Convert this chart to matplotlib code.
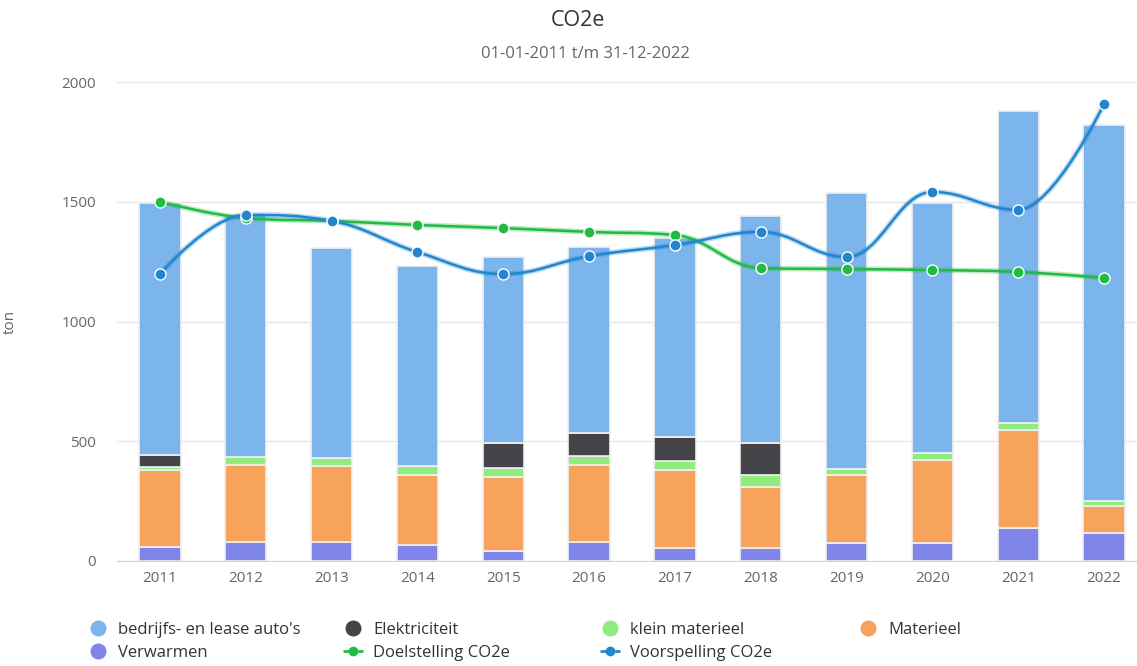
import numpy as np
import matplotlib
matplotlib.use("Agg")
import matplotlib.pyplot as plt
from matplotlib.path import Path
from matplotlib.patches import PathPatch
from matplotlib.lines import Line2D

plt.rcParams['font.family'] = ['Open Sans', 'DejaVu Sans']

# data
years = ["2011", "2012", "2013", "2014", "2015", "2016",
         "2017", "2018", "2019", "2020", "2021", "2022"]
verwarmen = [58, 78, 78, 67, 43, 78, 56, 56, 77, 77, 137, 118]
materieel = [322, 323, 320, 292, 309, 323, 324, 254, 282, 345, 410, 112]
klein_materieel = [14, 34, 32, 38, 35, 39, 37, 49, 24, 30, 28, 21]
elektriciteit = [49, 0, 0, 0, 104, 93, 102, 132, 0, 0, 0, 0]
autos = [1053, 1010, 878, 835, 777, 779, 828, 949, 1155, 1041, 1304, 1569]
doelstelling = [1500, 1432, 1420, 1403, 1390, 1374, 1361, 1223, 1219, 1215, 1207, 1182]
voorspelling = [1198, 1445, 1420, 1290, 1198, 1273, 1319, 1374, 1269, 1541, 1466, 1908]

c_autos = "#7cb5ec"
c_elek = "#434348"
c_klein = "#90ed7d"
c_mat = "#f7a35c"
c_verw = "#8085e9"
c_doel = "#21ba45"
c_voor = "#2185d0"


def spline_path(xs, ys, smoothing=1.5):
    # highcharts-style spline through the points
    n = len(xs)
    lc = [(xs[i], ys[i]) for i in range(n)]
    rc = [(xs[i], ys[i]) for i in range(n)]
    d = smoothing + 1
    for i in range(1, n - 1):
        x, y = xs[i], ys[i]
        lx, ly = xs[i - 1], ys[i - 1]
        nx, ny = xs[i + 1], ys[i + 1]
        lcx = (smoothing * x + lx) / d
        lcy = (smoothing * y + ly) / d
        rcx = (smoothing * x + nx) / d
        rcy = (smoothing * y + ny) / d
        if rcx != lcx:
            corr = (rcy - lcy) * (rcx - x) / (rcx - lcx) + y - rcy
            lcy += corr
            rcy += corr
        if lcy > ly and lcy > y:
            lcy = max(ly, y)
            rcy = 2 * y - lcy
        elif lcy < ly and lcy < y:
            lcy = min(ly, y)
            rcy = 2 * y - lcy
        if rcy > ny and rcy > y:
            rcy = max(ny, y)
            lcy = 2 * y - rcy
        elif rcy < ny and rcy < y:
            rcy = min(ny, y)
            lcy = 2 * y - rcy
        lc[i] = (lcx, lcy)
        rc[i] = (rcx, rcy)
    verts = [(xs[0], ys[0])]
    codes = [Path.MOVETO]
    for i in range(1, n):
        verts += [rc[i - 1], lc[i], (xs[i], ys[i])]
        codes += [Path.CURVE4] * 3
    return Path(verts, codes)


fig = plt.figure(figsize=(11.37, 6.66), dpi=100)
ax = fig.add_axes([117 / 1137, 105 / 666, 1030 / 1137, 479 / 666])

x = np.arange(len(years))
w = 0.48
bottom = np.zeros(len(years))
for vals, col in [(verwarmen, c_verw), (materieel, c_mat), (klein_materieel, c_klein),
                  (elektriciteit, c_elek), (autos, c_autos)]:
    vals = np.array(vals, dtype=float)
    ax.bar(x, vals, w, bottom=bottom, color=col, edgecolor="#f0f0f0", linewidth=1.2, zorder=2)
    bottom += vals

for vals, col in [(doelstelling, c_doel), (voorspelling, c_voor)]:
    p = spline_path(list(x.astype(float)), vals)
    ax.add_patch(PathPatch(p, facecolor="none", edgecolor=col, lw=4, alpha=0.3, zorder=3))
    ax.add_patch(PathPatch(p, facecolor="none", edgecolor=col, lw=1.8, zorder=3))
    ax.plot(x, vals, "o", color=col, markersize=8, markeredgecolor="white",
            markeredgewidth=1, zorder=4)

ax.set_xlim(-0.5, 11.5)
ax.set_ylim(0, 2000)
ax.set_yticks([0, 500, 1000, 1500, 2000])
ax.set_xticks(x)
ax.set_xticklabels(years)
ax.tick_params(axis="both", length=0, labelsize=11, labelcolor="#666666")
ax.tick_params(axis="x", pad=7)
ax.tick_params(axis="y", pad=15)
ax.grid(axis="y", color="#e6e6e6", lw=1, zorder=0)
ax.set_axisbelow(True)
for s in ["top", "right", "left"]:
    ax.spines[s].set_visible(False)
ax.spines["bottom"].set_color("#ccd6eb")
ax.spines["bottom"].set_zorder(5)
ax.set_ylabel("ton", fontsize=11, color="#666666")
ax.yaxis.set_label_coords(-0.096, 0.5)

fig.text(578 / 1137, 1 - 20 / 666, "CO2e", ha="center", va="center", fontsize=15.5, color="#333333")
fig.text(585 / 1137, 1 - 54 / 666, "01-01-2011 t/m 31-12-2022", ha="center", va="center",
         fontsize=12, color="#666666")

# legend, 4 columns in rows
def dot(col):
    return Line2D([], [], marker="o", ls="none", color=col, markersize=10.5)


def linedot(col):
    return Line2D([], [], marker="o", ls="--", color=col, markersize=6, lw=2)


columns = [
    ([dot(c_autos), dot(c_verw)], ["bedrijfs- en lease auto's", "Verwarmen"], 88),
    ([dot(c_elek), linedot(c_doel)], ["Elektriciteit", "Doelstelling CO2e"], 343),
    ([dot(c_klein), linedot(c_voor)], ["klein materieel", "Voorspelling CO2e"], 600),
    ([dot(c_mat)], ["Materieel"], 858),
]
for handles, labels, xpx in columns:
    leg = fig.legend(handles, labels, loc="upper left", bbox_to_anchor=(xpx / 1137, 1 - 622 / 666),
                     frameon=False, fontsize=12, labelcolor="#333333", handlelength=1.2,
                     handletextpad=0.6, labelspacing=0.4, borderpad=0, borderaxespad=0)

fig.savefig("out.png", dpi=100)
